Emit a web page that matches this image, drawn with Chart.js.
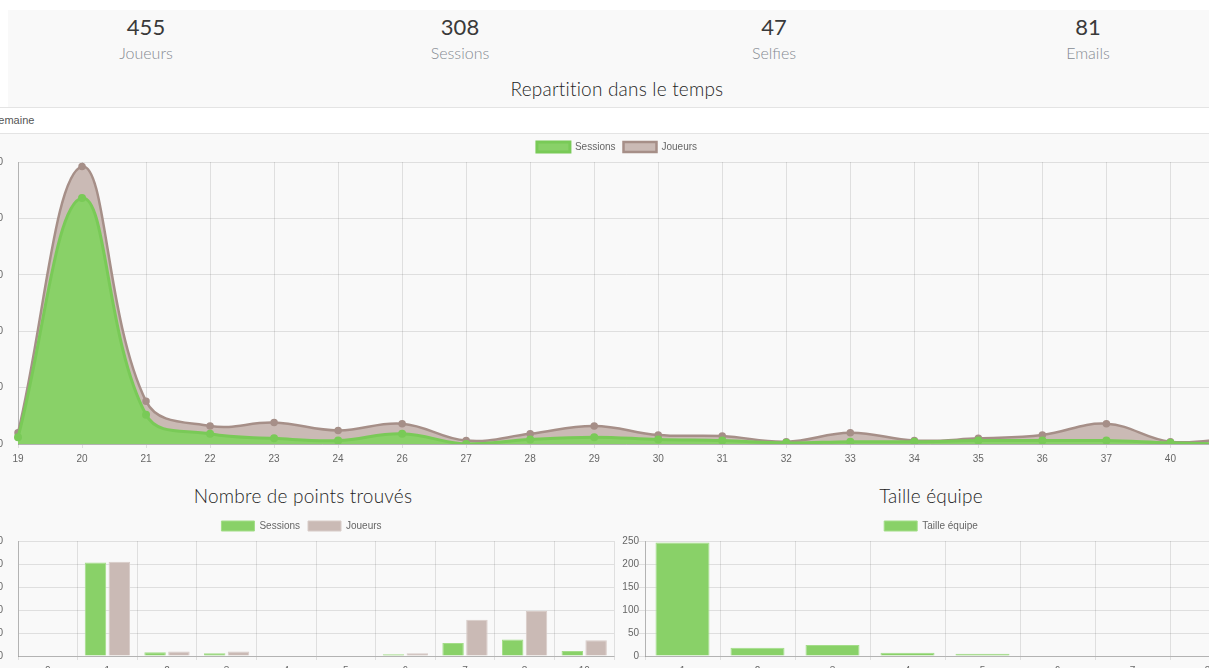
<!DOCTYPE html>
<html>
<head>
<meta charset="utf-8">
<title>Statistiques</title>
<script src="https://cdn.jsdelivr.net/npm/chart.js@4/dist/chart.umd.min.js"></script>
<style>
    html, body { margin: 0; padding: 0; }
    body { width: 1209px; height: 668px; overflow: hidden; background: #f9f9f9; font-family: Lato, "Open Sans", sans-serif; position: relative; }
    .wrap { position: absolute; left: -11px; top: 0; width: 1256px; height: 668px; }
    .top-blank { position: absolute; left: 0; top: 0; width: 1256px; height: 10px; background: #fff; }
    .left-blank { position: absolute; left: 0; top: 0; width: 19px; height: 107px; background: #fff; }
    .stat { position: absolute; top: 10px; width: 314px; text-align: center; }
    .stat__value { margin-top: 4px; font-size: 22px; line-height: 26px; color: #3a3a3a; font-weight: 400; }
    .stat__label { margin-top: 3px; font-size: 16px; line-height: 20px; color: #868b93; font-weight: 300; }
    .title { position: absolute; margin: 0; font-weight: 300; font-size: 19px; line-height: 22px; color: #1f1f1f; text-align: center; letter-spacing: 0.2px; }
    .band { position: absolute; left: 0; top: 107px; width: 1256px; height: 25px; background: #fff; border-top: 1px solid #e4e4e4; border-bottom: 1px solid #e4e4e4; }
    .band span { position: absolute; left: 2px; top: 6px; font-family: "Liberation Sans", Arial, sans-serif; font-size: 11px; line-height: 13px; color: #555; }
    canvas { position: absolute; }
</style>
</head>
<body>
<div class="wrap">
    <div class="top-blank"></div>
    <div class="left-blank"></div>
    <div class="stat" style="left:0"><div class="stat__value">455</div><div class="stat__label">Joueurs</div></div>
    <div class="stat" style="left:314px"><div class="stat__value">308</div><div class="stat__label">Sessions</div></div>
    <div class="stat" style="left:628px"><div class="stat__value">47</div><div class="stat__label">Selfies</div></div>
    <div class="stat" style="left:942px"><div class="stat__value">81</div><div class="stat__label">Emails</div></div>
    <h3 class="title" style="left:0; top:78px; width:1256px">Repartition dans le temps</h3>
    <div class="band"><span>Semaine</span></div>
    <canvas id="chart-temps" width="1256" height="336" style="left:0; top:134px"></canvas>
    <h3 class="title" style="left:0; top:485px; width:628px">Nombre de points trouvés</h3>
    <h3 class="title" style="left:628px; top:485px; width:628px">Taille équipe</h3>
    <canvas id="chart-points" width="628" height="169" style="left:0; top:513px"></canvas>
    <canvas id="chart-equipe" width="628" height="169" style="left:628px; top:513px"></canvas>
</div>
<script>
// semaines
var semaines = ['19', '20', '21', '22', '23', '24', '26', '27', '28', '29', '30', '31', '32', '33', '34', '35', '36', '37', '40', '41'];
var sessionsSemaine = [6, 218, 26, 9, 5, 3, 9, 0, 4, 6, 4, 3, 1, 2, 2, 3, 3, 3, 1, 0];
var joueursSemaine = [10, 246, 38, 16, 19, 12, 18, 3, 9, 16, 8, 7, 2, 10, 3, 5, 8, 18, 2, 5];

// points trouvés
var points = ['0', '1', '2', '3', '4', '5', '6', '7', '8', '10'];
var sessionsPoints = [1, 203, 8, 6, 0, 0, 4, 28, 36, 11];
var joueursPoints = [1, 205, 10, 10, 0, 0, 6, 79, 98, 34];

// taille equipe
var tailles = ['1', '2', '3', '4', '5', '6', '7', '8'];
var equipes = [247, 18, 24, 7, 5, 1, 1, 1];

var yTicks = [0, 50, 100, 150, 200, 250];

var vert = '#89d168', vertBord = '#79ca57';
var brun = '#cabab5', brunBord = '#a68f88';

Chart.defaults.font.family = "'Liberation Sans', Arial, sans-serif";
Chart.defaults.font.size = 10;
Chart.defaults.color = '#666';
Chart.defaults.animation = false;

function legende() {
    return {
        display: true,
        position: 'top',
        labels: { boxWidth: 33, boxHeight: 10, padding: 8 }
    };
}

// y axis, labels pushed out of the page on the left charts
function axeY(largeur, tick, pad) {
    return {
        min: yTicks[0],
        max: yTicks[yTicks.length - 1],
        ticks: { stepSize: yTicks[1] - yTicks[0], padding: pad },
        grid: { color: 'rgba(0,0,0,0.1)', tickLength: tick, drawTicks: tick > 0 },
        border: { color: 'rgba(0,0,0,0.2)' },
        afterFit: function (scale) { scale.width = largeur; }
    };
}

function axeX() {
    return {
        ticks: { maxRotation: 0, autoSkip: false, padding: 5 },
        grid: { color: 'rgba(0,0,0,0.1)', tickLength: 4 },
        border: { color: 'rgba(0,0,0,0.2)' }
    };
}

new Chart(document.getElementById('chart-temps'), {
    type: 'line',
    data: {
        labels: semaines,
        datasets: [{
            label: 'Sessions',
            data: sessionsSemaine,
            fill: 'origin',
            backgroundColor: vert,
            borderColor: vertBord,
            borderWidth: 3,
            pointRadius: 2.5,
            pointBackgroundColor: vertBord,
            pointBorderColor: vertBord,
            tension: 0.4
        }, {
            label: 'Joueurs',
            data: joueursSemaine,
            fill: 'origin',
            backgroundColor: brun,
            borderColor: brunBord,
            borderWidth: 2.5,
            pointRadius: 2.5,
            pointBackgroundColor: brunBord,
            pointBorderColor: brunBord,
            tension: 0.4
        }]
    },
    options: {
        responsive: false,
        plugins: { legend: legende(), tooltip: { enabled: false } },
        scales: { x: axeX(), y: axeY(29, 0, 15) }
    }
});

new Chart(document.getElementById('chart-points'), {
    type: 'bar',
    data: {
        labels: points,
        datasets: [{
            label: 'Sessions',
            data: sessionsPoints,
            backgroundColor: vert,
            borderColor: '#a3dd88',
            borderWidth: 1
        }, {
            label: 'Joueurs',
            data: joueursPoints,
            backgroundColor: brun,
            borderColor: '#d8ccc8',
            borderWidth: 1
        }]
    },
    options: {
        responsive: false,
        layout: { padding: { right: 3 } },
        plugins: { legend: legende(), tooltip: { enabled: false } },
        scales: { x: axeX(), y: axeY(29, 0, 15) }
    }
});

new Chart(document.getElementById('chart-equipe'), {
    type: 'bar',
    data: {
        labels: tailles,
        datasets: [{
            label: 'Taille équipe',
            data: equipes,
            backgroundColor: vert,
            borderColor: '#a3dd88',
            borderWidth: 1
        }]
    },
    options: {
        responsive: false,
        plugins: { legend: legende(), tooltip: { enabled: false } },
        scales: { x: axeX(), y: axeY(28, 6, 0) }
    }
});
</script>
</body>
</html>
